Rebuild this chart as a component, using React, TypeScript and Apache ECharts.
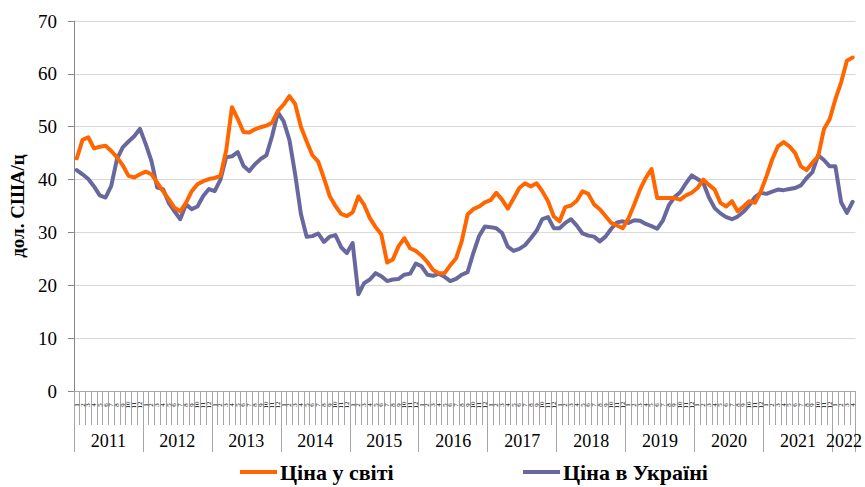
import React, { useEffect, useRef } from "react";
import * as echarts from "echarts";

const years = ["2011", "2012", "2013", "2014", "2015", "2016", "2017", "2018", "2019", "2020", "2021", "2022"];
const monthsPerYear = [12, 12, 12, 12, 12, 12, 12, 12, 12, 12, 12, 4];

// Ціна у світі (дол. США/ц), monthly from Jan 2011
const worldPrice = [
  44, 47.5, 48, 45.9, 46.2, 46.4, 45.4, 44.2, 42.7, 40.7, 40.4, 41,
  41.5, 41, 39.4, 37.8, 36.3, 34.7, 34, 35.6, 37.8, 39.1, 39.7, 40.1,
  40.3, 40.7, 45.5, 53.7, 51.5, 49, 48.9, 49.5, 49.9, 50.2, 50.8, 53,
  54.2, 55.8, 54.3, 50, 47.2, 44.6, 43.4, 40.3, 36.9, 35, 33.5, 33.1,
  33.8, 36.8, 35.2, 32.7, 31, 29.6, 24.3, 24.9, 27.4, 28.9, 27, 26.5,
  25.6, 24.4, 22.9, 22.3, 22.3, 23.8, 25.1, 28.4, 33.4, 34.4, 34.9, 35.7,
  36.1, 37.5, 36.2, 34.5, 36.4, 38.4, 39.3, 38.7, 39.3, 37.8, 35.9, 33,
  32.1, 34.8, 35.1, 36, 37.8, 37.3, 35.3, 34.4, 33.1, 31.8, 31.3, 30.8,
  32.7, 35.3, 38.1, 40.3, 42, 36.5, 36.5, 36.5, 36.5, 36.2, 37, 37.5,
  38.4, 40, 39, 38.1, 35.6, 34.9, 35.9, 34, 34.9, 35.9, 35.6, 37.7,
  40.6, 43.8, 46.3, 47.1, 46.3, 45, 42.5, 41.8, 43.2, 44.4, 49.5, 51.4,
  55.2, 58.4, 62.5, 63.1,
];

// Ціна в Україні (дол. США/ц)
const ukrainePrice = [
  41.8, 41, 40.1, 38.7, 37, 36.6, 38.8, 43.9, 46.1, 47.2, 48.2, 49.6,
  46.7, 43.5, 38.5, 38.2, 35.6, 34, 32.5, 35.3, 34.4, 34.9, 36.9, 38.2,
  37.8, 40, 44.2, 44.4, 45.2, 42.6, 41.6, 42.9, 43.9, 44.6, 48.3, 52.7,
  51, 47.5, 41, 33.5, 29.2, 29.3, 29.8, 28.2, 29.2, 29.5, 27.2, 26.1,
  28, 18.3, 20.4, 21.1, 22.3, 21.7, 20.8, 21.1, 21.2, 22, 22.2, 24.1,
  23.6, 22, 21.8, 22.2, 21.6, 20.8, 21.2, 22, 22.5, 26.1, 29.3, 31.1,
  31, 30.8, 29.9, 27.3, 26.5, 26.9, 27.6, 28.9, 30.3, 32.5, 32.9, 30.8,
  30.8, 31.8, 32.5, 31.3, 29.8, 29.4, 29.2, 28.3, 29.2, 30.7, 31.9, 32.1,
  31.8, 32.3, 32.2, 31.6, 31.2, 30.7, 32.3, 35.1, 36.7, 37.6, 39.3, 40.8,
  40.1, 39.4, 36.6, 34.6, 33.6, 32.9, 32.5, 33, 33.9, 35.1, 36.7, 37.5,
  37.3, 37.7, 38.1, 38, 38.2, 38.4, 38.9, 40.3, 41.4, 44.6, 43.7, 42.5,
  42.5, 35.7, 33.7, 35.8,
];

const seriesNames = ["Ціна у світі", "Ціна в Україні"];
const yTicks = [0, 10, 20, 30, 40, 50, 60, 70];

// derived category arrays
const monthLabels: string[] = [];
const yearOfMonth: string[] = [];
const yearStartIdx: number[] = [];
const yearLabelIdx: number[] = [];
years.forEach((y, k) => {
  const n = monthsPerYear[k];
  yearStartIdx.push(monthLabels.length);
  yearLabelIdx.push(monthLabels.length + Math.floor(n / 2) - 1);
  for (let m = 1; m <= n; m++) {
    monthLabels.push(String(m));
    yearOfMonth.push(y);
  }
});

const FONT = "Liberation Serif";
const ORANGE = "#FF6600";
const PURPLE = "#68689E";

const legendBase = {
  top: 456,
  icon: "rect",
  itemWidth: 37,
  itemHeight: 4,
  itemGap: 0,
  textStyle: { fontFamily: FONT, fontSize: 22, fontWeight: "bold", color: "#000", padding: [0, 0, 0, -2] },
};

export default function App() {
  const ref = useRef<HTMLDivElement>(null);
  useEffect(() => {
    if (!ref.current) return;
    const chart = echarts.init(ref.current, undefined, { renderer: "svg" });
    const bandW = 785 / monthLabels.length;
    chart.setOption({
      animation: false,
      backgroundColor: "#ffffff",
      textStyle: { fontFamily: FONT },
      grid: { left: 73, right: 7, top: 21, bottom: 96, containLabel: false },
      legend: [
        { ...legendBase, data: [seriesNames[0]], left: 235 },
        { ...legendBase, data: [seriesNames[1]], left: 518 },
      ],
      xAxis: [
        {
          type: "category",
          data: monthLabels,
          boundaryGap: true,
          axisLine: { show: true, lineStyle: { color: "#a6a6a6", width: 1 } },
          axisTick: { show: true, interval: 0, length: 34, lineStyle: { color: "#a6a6a6" } },
          axisLabel: {
            interval: 0,
            rotate: 90,
            fontSize: 7,
            fontFamily: FONT,
            color: "#000",
            margin: 14,
            align: "center",
            verticalAlign: "middle",
          },
          splitLine: { show: false },
        },
        {
          type: "category",
          data: yearOfMonth,
          boundaryGap: true,
          position: "bottom",
          offset: 34,
          axisLine: { show: false },
          axisTick: {
            show: true,
            length: 27,
            interval: (i: number) => yearStartIdx.indexOf(i) >= 0,
            lineStyle: { color: "#a6a6a6" },
          },
          axisLabel: {
            interval: (i: number) => yearLabelIdx.indexOf(i) >= 0,
            fontSize: 18,
            fontFamily: FONT,
            color: "#000",
            margin: 7,
            padding: [0, 0, 0, bandW],
          },
          splitLine: { show: false },
        },
      ],
      yAxis: {
        type: "value",
        min: yTicks[0],
        max: yTicks[yTicks.length - 1],
        interval: 10,
        name: "дол. США/ц",
        nameLocation: "middle",
        nameGap: 46,
        nameTextStyle: { fontFamily: FONT, fontSize: 19, fontWeight: "bold", color: "#000" },
        axisLine: { show: true, lineStyle: { color: "#868686" } },
        axisTick: { show: true, length: 6, lineStyle: { color: "#868686" } },
        axisLabel: { fontFamily: FONT, fontSize: 19, color: "#000", margin: 17 },
        splitLine: { show: true, lineStyle: { color: "#d9d9d9" } },
      },
      series: [
        {
          name: seriesNames[0],
          type: "line",
          data: worldPrice,
          symbol: "none",
          showSymbol: false,
          color: ORANGE,
          lineStyle: { color: ORANGE, width: 4, join: "round", cap: "round" },
          z: 3,
        },
        {
          name: seriesNames[1],
          type: "line",
          data: ukrainePrice,
          symbol: "none",
          showSymbol: false,
          color: PURPLE,
          lineStyle: { color: PURPLE, width: 4, join: "round", cap: "round" },
          z: 2,
        },
      ],
    });
    return () => chart.dispose();
  }, []);
  return (
    <div
      ref={ref}
      style={{ position: "absolute", left: 0, top: 0, width: 865, height: 487, background: "#fff" }}
    />
  );
}
